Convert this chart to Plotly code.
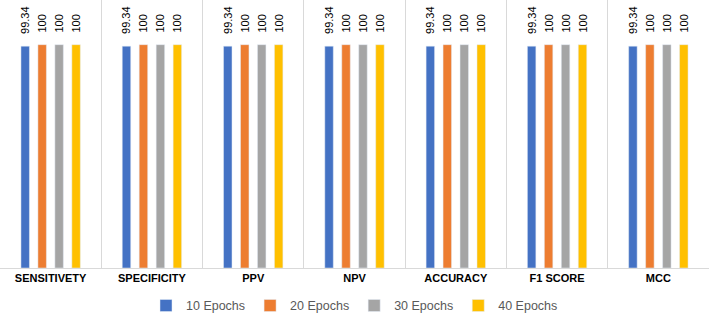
import plotly.graph_objects as go

categories = ["SENSITIVETY", "SPECIFICITY", "PPV", "NPV", "ACCURACY", "F1 SCORE", "MCC"]
series_names = ["10 Epochs", "20 Epochs", "30 Epochs", "40 Epochs"]
epochs_10 = [99.34, 99.34, 99.34, 99.34, 99.34, 99.34, 99.34]
epochs_20 = [100, 100, 100, 100, 100, 100, 100]
epochs_30 = [100, 100, 100, 100, 100, 100, 100]
epochs_40 = [100, 100, 100, 100, 100, 100, 100]
colors = ["#4472C4", "#ED7D31", "#A5A5A5", "#FFC000"]

fig = go.Figure()
for name, vals, col in zip(series_names, [epochs_10, epochs_20, epochs_30, epochs_40], colors):
    fig.add_trace(go.Bar(
        x=categories, y=vals, name=name, marker_color=col,
        text=["\u00a0\u00a0\u00a0" + f"{v:g}" for v in vals],
        textposition="outside", textangle=-90,
        constraintext="none",
        textfont=dict(family="Liberation Sans", size=11, color="#000000"),
        cliponaxis=False,
    ))

fig.update_layout(
    width=709, height=315,
    margin=dict(l=0, r=0, t=0, b=47),
    paper_bgcolor="white", plot_bgcolor="white",
    barmode="group", bargap=0.33, bargroupgap=0.5,
    showlegend=True,
    legend=dict(orientation="h", x=0.5, xanchor="center",
                yref="container", y=0.029, yanchor="middle",
                font=dict(family="Liberation Sans", size=12.5, color="#595959"),
                itemwidth=30, traceorder="normal"),
    font=dict(family="Liberation Sans"),
)
fig.update_xaxes(
    range=[-0.5, 6.5], automargin=False,
    tickson="boundaries", showgrid=True, gridcolor="#D9D9D9", gridwidth=1,
    showline=True, linecolor="#D9D9D9", linewidth=1, ticks="",
    tickfont=dict(family="Liberation Sans", size=11, color="#000000", weight="bold"),
)
fig.update_yaxes(range=[0, 120], visible=False, showgrid=False, zeroline=False)

fig.write_html("out.html", config={"displayModeBar": False},
               post_script="document.body.style.margin='0';document.body.style.overflow='hidden';")
